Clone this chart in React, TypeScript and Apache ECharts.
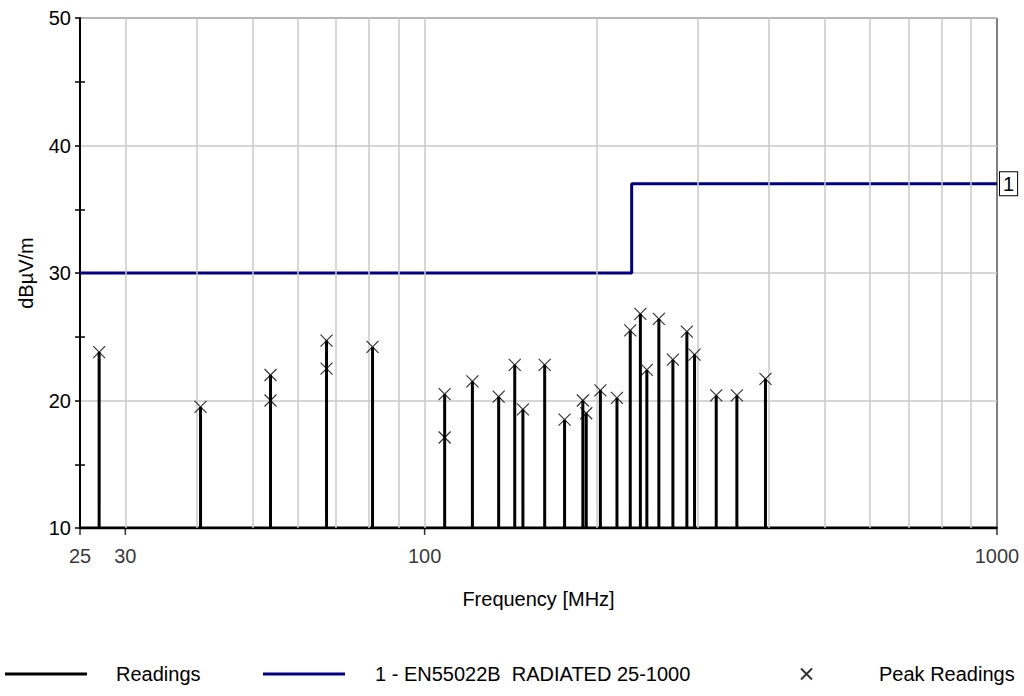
import React, { useEffect, useRef } from "react";
import * as echarts from "echarts";

const xTickLabels = [25, 30, 100, 1000];
const xGridFreqs = [30, 40, 50, 60, 70, 80, 90, 100, 200, 300, 400, 500, 600, 700, 800, 900];
const yMinorTicks = [15, 25, 35, 45];

const limitFreqs = [25, 230, 230, 1000];
const limitValues = [30, 30, 37, 37];

const peakFreqs = [27.0, 40.6, 53.8, 53.8, 67.4, 67.4, 81.1, 108.4, 108.4, 121.2, 134.7, 143.7, 148.5, 162.1, 175.6, 189.0, 191.6, 202.8, 216.8, 228.7, 238.2, 244.5, 256.6, 271.5, 287.2, 296.2, 323.2, 351.2, 394.0];
const peakValues = [23.8, 19.5, 22.0, 20.0, 24.7, 22.5, 24.2, 20.5, 17.1, 21.5, 20.3, 22.8, 19.3, 22.8, 18.5, 20.0, 19.0, 20.8, 20.2, 25.5, 26.8, 22.4, 26.4, 23.2, 25.4, 23.6, 20.4, 20.4, 21.7];

const FONT = "'Liberation Sans', Arial, sans-serif";
const FS = 20;
const X_MIN = 25;
const X_MAX = 1000;
const Y_MIN = 10;
const Y_MAX = 50;

export default function App() {
  const ref = useRef<HTMLDivElement>(null);

  useEffect(() => {
    document.body.style.margin = "0";
    if (!ref.current) return;
    const chart = echarts.init(ref.current, null, { renderer: "svg" });

    // readings trace: baseline with vertical spikes at each peak frequency
    const maxByFreq = new Map<number, number>();
    peakFreqs.forEach((f, i) => {
      const v = peakValues[i];
      maxByFreq.set(f, Math.max(maxByFreq.get(f) ?? -Infinity, v));
    });
    const uniq = Array.from(maxByFreq.keys()).sort((a, b) => a - b);
    const readings: number[][] = [[X_MIN, Y_MIN]];
    uniq.forEach((f) => {
      readings.push([f, Y_MIN], [f, maxByFreq.get(f)!], [f, Y_MIN]);
    });
    readings.push([X_MAX, Y_MIN]);

    const limit = limitFreqs.map((f, i) => [f, limitValues[i]]);
    const peaks = peakFreqs.map((f, i) => [f, peakValues[i]]);
    const tickData = xTickLabels.map((f) => [f, Y_MIN]);

    const xSymbol = "path://M0,0L10,10M10,0L0,10";
    const legendText = { fontSize: FS, color: "#000", fontFamily: FONT };

    chart.setOption({
      animation: false,
      backgroundColor: "#ffffff",
      textStyle: { fontFamily: FONT, color: "#000" },
      grid: {
        left: 80,
        right: 27,
        top: 18,
        bottom: 168,
        show: true,
        borderColor: "#000",
        borderWidth: 1,
        backgroundColor: "transparent",
      },
      xAxis: {
        type: "log",
        logBase: 10,
        min: X_MIN,
        max: X_MAX,
        name: "Frequency [MHz]",
        nameLocation: "middle",
        nameGap: 61,
        nameTextStyle: { fontSize: FS, color: "#000", fontFamily: FONT },
        axisLine: { show: true, lineStyle: { color: "#000", width: 2 } },
        axisTick: { show: false },
        axisLabel: { show: false },
        splitLine: { show: false },
        minorSplitLine: { show: false },
      },
      yAxis: [
        {
          type: "value",
          min: Y_MIN,
          max: Y_MAX,
          interval: 10,
          name: "dBµV/m",
          nameLocation: "middle",
          nameGap: 44,
          nameTextStyle: { fontSize: FS, color: "#000", fontFamily: FONT },
          axisLine: { show: true, lineStyle: { color: "#000", width: 2 } },
          axisTick: { show: true, length: 5, lineStyle: { color: "#000", width: 1.5 } },
          minorTick: { show: true, splitNumber: 2, length: 5, lineStyle: { color: "#000", width: 1.5 } },
          axisLabel: { fontSize: FS, color: "#000", margin: 9, fontFamily: FONT },
          splitLine: { show: true, lineStyle: { color: "#c8c8c8", width: 1.5 } },
        },
        {
          type: "value",
          min: Y_MIN,
          max: Y_MAX,
          interval: 5,
          position: "left",
          axisLine: { show: false },
          axisLabel: { show: false },
          splitLine: { show: false },
          axisTick: {
            show: true,
            inside: true,
            length: 5,
            customValues: yMinorTicks,
            lineStyle: { color: "#000", width: 1.5 },
          },
        },
      ],
      legend: [
        {
          data: ["Readings"],
          left: 0,
          top: 659,
          itemWidth: 82,
          itemHeight: 3,
          icon: "rect",
          itemStyle: { color: "#000", borderWidth: 0 },
          textStyle: { ...legendText, padding: [0, 0, 0, 24] },
          selectedMode: false,
        },
        {
          data: ["1 - EN55022B  RADIATED 25-1000"],
          left: 258,
          top: 659,
          itemWidth: 82,
          itemHeight: 3,
          icon: "rect",
          itemStyle: { color: "#000080", borderWidth: 0 },
          textStyle: { ...legendText, padding: [0, 0, 0, 25] },
          selectedMode: false,
        },
        {
          data: ["Peak Readings"],
          left: 795,
          top: 659,
          itemWidth: 11,
          itemHeight: 11,
          textStyle: { ...legendText, padding: [0, 0, 0, 62] },
          selectedMode: false,
        },
      ],
      series: [
        {
          name: "grid",
          type: "line",
          data: [],
          silent: true,
          markLine: {
            silent: true,
            symbol: "none",
            label: { show: false },
            lineStyle: { color: "#c8c8c8", width: 1.5, type: "solid" },
            data: xGridFreqs.map((f) => ({ xAxis: f })),
          },
        },
        {
          name: "ticks",
          type: "scatter",
          silent: true,
          symbol: "rect",
          symbolSize: [1.5, 6],
          symbolOffset: [0, 4],
          itemStyle: { color: "#000" },
          label: {
            show: true,
            position: "bottom",
            distance: 11,
            fontSize: FS,
            color: "#000",
            fontFamily: FONT,
            formatter: (p: any) => String(p.value[0]),
          },
          data: tickData,
          z: 5,
        },
        {
          name: "Readings",
          type: "line",
          data: readings,
          symbol: "none",
          showSymbol: false,
          lineStyle: { color: "#000", width: 3 },
          itemStyle: { color: "#000" },
          z: 3,
        },
        {
          name: "1 - EN55022B  RADIATED 25-1000",
          type: "line",
          data: limit,
          symbol: "none",
          showSymbol: false,
          lineStyle: { color: "#000080", width: 3 },
          itemStyle: { color: "#000080" },
          endLabel: {
            show: true,
            formatter: "1",
            color: "#000",
            fontSize: FS,
            fontFamily: FONT,
            borderColor: "#000",
            borderWidth: 1,
            backgroundColor: "#fff",
            padding: [2, 3, 1, 3],
            distance: 3,
          },
          z: 4,
        },
        {
          name: "Peak Readings",
          type: "scatter",
          data: peaks,
          symbol: xSymbol,
          symbolSize: 12,
          itemStyle: { color: "rgba(0,0,0,0)", borderColor: "#000", borderWidth: 1.2 },
          z: 6,
        },
      ],
    });

    return () => chart.dispose();
  }, []);

  return <div ref={ref} style={{ width: 1024, height: 696 }} />;
}
